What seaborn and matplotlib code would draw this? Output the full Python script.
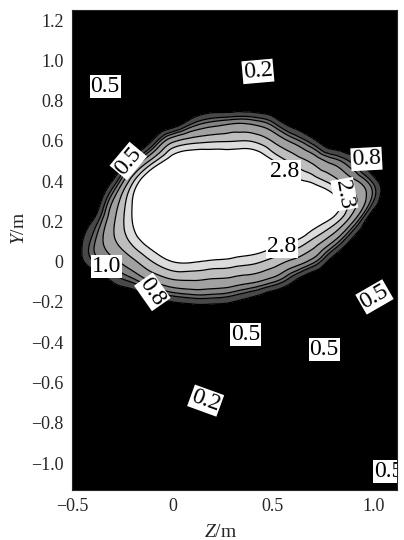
import numpy as np
import matplotlib
matplotlib.use("Agg")
import matplotlib.pyplot as plt
import matplotlib.tri as mtri
import seaborn as sns

# grid: Z across (m), Y from top row down (m)
z_grid = [-0.5, -0.4, -0.3, -0.2, -0.1, 0.0, 0.1, 0.2, 0.3,
          0.4, 0.5, 0.6, 0.7, 0.8, 0.9, 1.0, 1.1, 1.2]
y_grid = [1.3, 1.2, 1.1, 1.0, 0.9, 0.8, 0.7, 0.6, 0.5, 0.4, 0.3, 0.2, 0.1,
          0.0, -0.1, -0.2, -0.3, -0.4, -0.5, -0.6, -0.7, -0.8, -0.9, -1.0,
          -1.1, -1.2]
field_rows = [
    [0.30, 0.30, 0.30, 0.30, 0.30, 0.30, 0.30, 0.30, 0.30, 0.30, 0.30, 0.30, 0.30, 0.30, 0.30, 0.30, 0.30, 0.30],
    [0.30, 0.30, 0.30, 0.30, 0.30, 0.30, 0.30, 0.30, 0.30, 0.30, 0.30, 0.30, 0.30, 0.30, 0.30, 0.30, 0.30, 0.30],
    [0.30, 0.30, 0.30, 0.30, 0.30, 0.30, 0.30, 0.30, 0.30, 0.30, 0.30, 0.30, 0.30, 0.30, 0.30, 0.30, 0.30, 0.30],
    [0.30, 0.30, 0.30, 0.30, 0.30, 0.30, 0.30, 0.30, 0.30, 0.15, 0.30, 0.30, 0.30, 0.30, 0.30, 0.30, 0.30, 0.30],
    [0.30, 0.30, 0.30, 0.30, 0.30, 0.30, 0.30, 0.30, 0.30, 0.30, 0.30, 0.30, 0.30, 0.30, 0.30, 0.30, 0.30, 0.30],
    [0.30, 0.30, 0.30, 0.30, 0.15, 0.05, 0.05, 0.05, 0.05, 0.05, 0.05, 0.05, 0.15, 0.30, 0.30, 0.30, 0.30, 0.30],
    [0.30, 0.30, 0.30, 0.15, 0.05, 0.05, 0.64, 0.95, 1.09, 1.05, 0.71, 0.21, 0.05, 0.05, 0.15, 0.30, 0.30, 0.30],
    [0.30, 0.30, 0.15, 0.05, 0.52, 1.65, 2.08, 2.22, 2.27, 2.25, 1.75, 1.17, 0.61, 0.07, 0.05, 0.15, 0.30, 0.30],
    [0.30, 0.15, 0.05, 0.70, 2.05, 3.20, 3.50, 3.50, 3.50, 3.50, 2.85, 2.13, 1.65, 1.14, 0.70, 0.05, 0.15, 0.30],
    [0.15, 0.05, 0.50, 2.14, 3.70, 4.00, 4.00, 4.00, 4.00, 4.00, 4.00, 3.10, 2.65, 2.05, 1.40, 0.70, 0.05, 0.15],
    [0.05, 0.05, 1.27, 2.80, 4.00, 4.00, 4.00, 4.00, 4.00, 4.00, 4.00, 4.00, 3.80, 3.10, 2.00, 0.80, 0.05, 0.15],
    [0.05, 0.50, 1.65, 2.80, 3.90, 4.00, 4.00, 4.00, 4.00, 4.00, 4.00, 4.00, 3.30, 2.55, 1.30, 0.07, 0.05, 0.15],
    [0.12, 0.88, 1.65, 2.42, 3.20, 3.70, 3.90, 3.80, 3.70, 3.50, 3.20, 2.80, 2.15, 1.30, 0.34, 0.05, 0.15, 0.30],
    [0.05, 0.75, 1.16, 1.65, 2.30, 2.80, 2.85, 2.70, 2.59, 2.43, 2.10, 1.65, 1.09, 0.27, 0.05, 0.15, 0.30, 0.30],
    [0.05, 0.09, 0.50, 0.83, 1.30, 1.65, 1.73, 1.65, 1.55, 1.36, 1.03, 0.50, 0.05, 0.05, 0.15, 0.30, 0.30, 0.30],
    [0.15, 0.05, 0.05, 0.05, 0.30, 0.50, 0.60, 0.60, 0.50, 0.29, 0.05, 0.05, 0.15, 0.30, 0.30, 0.30, 0.30, 0.30],
    [0.30, 0.15, 0.15, 0.05, 0.05, 0.05, 0.05, 0.05, 0.05, 0.05, 0.15, 0.15, 0.30, 0.30, 0.30, 0.30, 0.30, 0.30],
    [0.30, 0.30, 0.30, 0.15, 0.15, 0.15, 0.15, 0.15, 0.15, 0.15, 0.30, 0.30, 0.30, 0.30, 0.30, 0.30, 0.30, 0.30],
    [0.30, 0.30, 0.30, 0.30, 0.30, 0.30, 0.30, 0.30, 0.30, 0.30, 0.30, 0.30, 0.30, 0.30, 0.30, 0.30, 0.30, 0.30],
    [0.30, 0.30, 0.30, 0.30, 0.30, 0.30, 0.30, 0.30, 0.30, 0.30, 0.30, 0.30, 0.30, 0.30, 0.30, 0.30, 0.30, 0.30],
    [0.30, 0.30, 0.30, 0.30, 0.30, 0.30, 0.30, 0.15, 0.30, 0.30, 0.30, 0.30, 0.30, 0.30, 0.30, 0.30, 0.30, 0.30],
    [0.30, 0.30, 0.30, 0.30, 0.30, 0.30, 0.30, 0.30, 0.30, 0.30, 0.30, 0.30, 0.30, 0.30, 0.30, 0.30, 0.30, 0.30],
    [0.30, 0.30, 0.30, 0.30, 0.30, 0.30, 0.30, 0.30, 0.30, 0.30, 0.30, 0.30, 0.30, 0.30, 0.30, 0.30, 0.30, 0.30],
    [0.30, 0.30, 0.30, 0.30, 0.30, 0.30, 0.30, 0.30, 0.30, 0.30, 0.30, 0.30, 0.30, 0.30, 0.30, 0.30, 0.30, 0.30],
    [0.30, 0.30, 0.30, 0.30, 0.30, 0.30, 0.30, 0.30, 0.30, 0.30, 0.30, 0.30, 0.30, 0.30, 0.30, 0.30, 0.30, 0.30],
    [0.30, 0.30, 0.30, 0.30, 0.30, 0.30, 0.30, 0.30, 0.30, 0.30, 0.30, 0.30, 0.30, 0.30, 0.30, 0.30, 0.30, 0.30],
]

line_levels = [0.2, 0.5, 0.8, 1.0, 1.3, 1.8, 2.3, 2.8]

# contour labels as printed on the chart
label_levels = [0.5, 0.2, 0.5, 0.8, 2.8, 2.3, 2.8, 1.0, 0.8, 0.5, 0.5, 0.5, 0.2, 0.5]
label_z = [-0.335, 0.425, -0.22, 0.965, 0.56, 0.855, 0.545, -0.33, -0.10, 1.005, 0.365, 0.755, 0.165, 1.075]
label_y = [0.87, 0.945, 0.50, 0.51, 0.45, 0.335, 0.075, -0.025, -0.15, -0.175, -0.36, -0.435, -0.69, -1.04]
label_rot = [0, 5, 50, 3, 0, -80, 0, 0, -55, 30, 0, 0, -20, 0]

x_ticks = [-0.5, 0, 0.5, 1.0]
x_ticklabels = ["\u22120.5", "0", "0.5", "1.0"]
y_ticks = [1.2, 1.0, 0.8, 0.6, 0.4, 0.2, 0, -0.2, -0.4, -0.6, -0.8, -1.0]
y_ticklabels = ["1.2", "1.0", "0.8", "0.6", "0.4", "0.2", "0",
                "\u22120.2", "\u22120.4", "\u22120.6", "\u22120.8", "\u22121.0"]

sns.set_style("white")
plt.rcParams["font.family"] = ["Liberation Serif", "DejaVu Serif"]
plt.rcParams["mathtext.fontset"] = "custom"
plt.rcParams["mathtext.it"] = "Liberation Serif:italic"
plt.rcParams["mathtext.rm"] = "Liberation Serif"

fill_levels = [-5.0, 0.5, 0.8, 1.0, 1.3, 1.8, 2.3, 2.8, 10.0]
fill_colors = ["black"] + sns.blend_palette(["#484848", "#dcdcdc"], 6) + ["white"]

Z, Y = np.meshgrid(z_grid, y_grid)
V = np.array(field_rows)
tri = mtri.Triangulation(Z.ravel(), Y.ravel())
tri_fine, v_fine = mtri.UniformTriRefiner(tri).refine_field(V.ravel(), subdiv=3)

fig = plt.figure(figsize=(4.04, 5.40), dpi=100)
ax = fig.add_axes([72 / 404, 50 / 540, 325 / 404, 480 / 540])

ax.tricontourf(tri_fine, v_fine, levels=fill_levels, colors=fill_colors)
cs = ax.tricontour(tri_fine, v_fine, levels=line_levels, colors="black", linewidths=0.9)

# boxed contour labels, white box hides the line under the number
for lev, lz, ly, rot in zip(label_levels, label_z, label_y, label_rot):
    ax.text(lz, ly, f"{lev:.1f}", fontsize=17, rotation=rot, rotation_mode="anchor",
            ha="center", va="center", color="black", clip_on=True,
            bbox=dict(boxstyle="square,pad=0.04", fc="white", ec="none"))

ax.set_xlim(-0.5, 1.117)
ax.set_ylim(-1.134, 1.25)
ax.set_xticks(x_ticks)
ax.set_xticklabels(x_ticklabels)
ax.set_yticks(y_ticks)
ax.set_yticklabels(y_ticklabels)
ax.tick_params(length=0, labelsize=13, pad=6)

ax.set_xlabel(r"$Z$/m", fontsize=14)
ax.set_ylabel(r"$Y$/m", fontsize=14)
ax.xaxis.set_label_coords(0.458, -0.07)
ax.yaxis.set_label_coords(-0.135, 0.546)

fig.savefig("out.png", dpi=100)
